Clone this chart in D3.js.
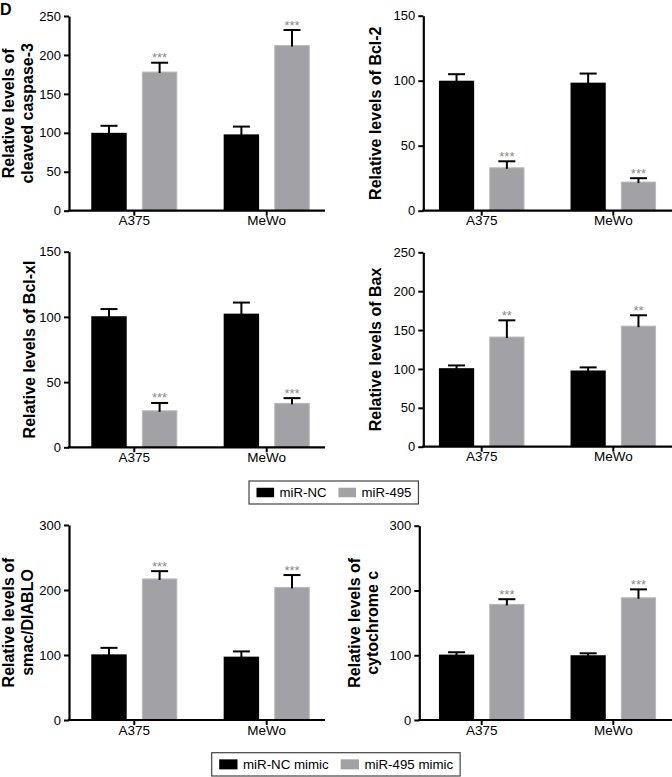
<!DOCTYPE html>
<html>
<head>
<meta charset="utf-8">
<script src="https://cdn.jsdelivr.net/npm/d3@7/dist/d3.min.js"></script>
<style>
  html, body { margin: 0; padding: 0; background: #fff; }
  svg { display: block; font-family: "Liberation Sans", Arial, Helvetica, sans-serif; }
</style>
</head>
<body>
<svg id="chart" width="672" height="777"></svg>
<script>
// ---------------- DATA ----------------
const categories = ["A375", "MeWo"];

const caspase3NC = [100, 98],   caspase3NCErr = [9, 10];
const caspase3Mir = [178, 212], caspase3MirErr = [12, 20];

const bcl2NC = [100, 98.5],     bcl2NCErr = [5, 7];
const bcl2Mir = [33, 22],       bcl2MirErr = [5, 3];

const bclxlNC = [100.5, 102.5], bclxlNCErr = [5.5, 8.5];
const bclxlMir = [28, 33.7],    bclxlMirErr = [6, 4];

const baxNC = [101, 98],        baxNCErr = [3.5, 4];
const baxMir = [141, 155],      baxMirErr = [21.5, 14];

const smacNC = [101, 97.5],     smacNCErr = [10, 8];
const smacMir = [217, 204],     smacMirErr = [12, 19];

const cytcNC = [101, 100],      cytcNCErr = [3.6, 3];
const cytcMir = [178.5, 188.7], cytcMirErr = [8, 13];

const sigCaspase3 = ["***", "***"];
const sigBcl2 = ["***", "***"];
const sigBclxl = ["***", "***"];
const sigBax = ["**", "**"];
const sigSmac = ["***", "***"];
const sigCytc = ["***", "***"];

const ticks250 = [0, 50, 100, 150, 200, 250];
const ticks150 = [0, 50, 100, 150];
const ticks300 = [0, 100, 200, 300];

const legend1Labels = ["miR-NC", "miR-495"];
const legend2Labels = ["miR-NC mimic", "miR-495 mimic"];

// ---------------- LAYOUT ----------------
const BLACK = "#000000";
const GREY = "#a2a2a6";
const GREY_EDGE = "#b8b8b8";
const STAR = "#8a8a8a";

const panels = [
  { label: ["Relative levels of", "cleaved caspase-3"], labelX: [14, 33],
    nc: caspase3NC, ncErr: caspase3NCErr, mir: caspase3Mir, mirErr: caspase3MirErr, sig: sigCaspase3,
    ticks: ticks250, axisX: 69, xEnd: 325, yTop: 16, yZero: 210.7, c1: 134.3, c2: 266.7 },
  { label: ["Relative levels of Bcl-2"], labelX: [381],
    nc: bcl2NC, ncErr: bcl2NCErr, mir: bcl2Mir, mirErr: bcl2MirErr, sig: sigBcl2,
    ticks: ticks150, axisX: 423.3, xEnd: 672, yTop: 15.7, yZero: 210.7, c1: 481.7, c2: 613.3 },
  { label: ["Relative levels of Bcl-xl"], labelX: [35],
    nc: bclxlNC, ncErr: bclxlNCErr, mir: bclxlMir, mirErr: bclxlMirErr, sig: sigBclxl,
    ticks: ticks150, axisX: 69, xEnd: 325, yTop: 251.7, yZero: 447.3, c1: 134.3, c2: 266.7 },
  { label: ["Relative levels of Bax"], labelX: [381],
    nc: baxNC, ncErr: baxNCErr, mir: baxMir, mirErr: baxMirErr, sig: sigBax,
    ticks: ticks250, axisX: 423.3, xEnd: 672, yTop: 252.3, yZero: 446.7, c1: 481.7, c2: 613.3 },
  { label: ["Relative levels of", "smac/DIABLO"], labelX: [14, 33],
    nc: smacNC, ncErr: smacNCErr, mir: smacMir, mirErr: smacMirErr, sig: sigSmac,
    ticks: ticks300, axisX: 69, xEnd: 325, yTop: 525, yZero: 720, c1: 134.3, c2: 266.7 },
  { label: ["Relative levels of", "cytochrome c"], labelX: [360, 378],
    nc: cytcNC, ncErr: cytcNCErr, mir: cytcMir, mirErr: cytcMirErr, sig: sigCytc,
    ticks: ticks300, axisX: 419.3, xEnd: 672, yTop: 525.7, yZero: 720, c1: 481.7, c2: 613.3 }
];

const svg = d3.select("#chart");

// Panel letter
svg.append("text").attr("x", 0).attr("y", 15)
  .attr("font-size", 16).attr("font-weight", "bold").text("D");

panels.forEach(p => {
  const g = svg.append("g");
  const step = p.c2 - p.c1;
  const y = d3.scaleLinear().domain([0, d3.max(p.ticks)]).range([p.yZero, p.yTop]);
  const x0 = d3.scaleBand().domain(categories)
    .range([p.c1 - step / 2, p.c2 + step / 2])
    .paddingInner(0.35).paddingOuter(0.175);
  const x1 = d3.scaleBand().domain(["nc", "mir"])
    .range([0, x0.bandwidth()]).paddingInner(0.3).paddingOuter(0);

  const rows = categories.map((c, i) => ({
    cat: c,
    series: [
      { key: "nc", v: p.nc[i], e: p.ncErr[i], sig: null },
      { key: "mir", v: p.mir[i], e: p.mirErr[i], sig: p.sig[i] }
    ]
  }));

  // bars
  const grp = g.selectAll("g.grp").data(rows).join("g")
    .attr("transform", d => `translate(${x0(d.cat)},0)`);

  grp.selectAll("rect").data(d => d.series).join("rect")
    .attr("x", d => x1(d.key) + (d.key === "mir" ? 0.5 : 0))
    .attr("width", d => x1.bandwidth() - (d.key === "mir" ? 1 : 0))
    .attr("y", d => y(d.v))
    .attr("height", d => y(0) - y(d.v))
    .attr("fill", d => d.key === "nc" ? BLACK : GREY)
    .attr("stroke", d => d.key === "nc" ? "none" : GREY_EDGE)
    .attr("stroke-width", 1);

  // error bars (upper only)
  const capW = 17;
  grp.selectAll("line.err").data(d => d.series).join("line")
    .attr("class", "err")
    .attr("x1", d => x1(d.key) + x1.bandwidth() / 2)
    .attr("x2", d => x1(d.key) + x1.bandwidth() / 2)
    .attr("y1", d => y(d.v) + 1)
    .attr("y2", d => y(d.v + d.e))
    .attr("stroke", BLACK).attr("stroke-width", 2);
  grp.selectAll("line.cap").data(d => d.series).join("line")
    .attr("class", "cap")
    .attr("x1", d => x1(d.key) + x1.bandwidth() / 2 - capW / 2)
    .attr("x2", d => x1(d.key) + x1.bandwidth() / 2 + capW / 2)
    .attr("y1", d => y(d.v + d.e))
    .attr("y2", d => y(d.v + d.e))
    .attr("stroke", BLACK).attr("stroke-width", 2);

  // significance stars
  grp.selectAll("text.sig").data(d => d.series.filter(s => s.sig)).join("text")
    .attr("class", "sig")
    .attr("x", d => x1(d.key) + x1.bandwidth() / 2)
    .attr("y", d => y(d.v + d.e) - 0.5)
    .attr("text-anchor", "middle")
    .attr("font-size", 13)
    .attr("fill", STAR)
    .text(d => d.sig);

  // y axis
  const yAxis = g.append("g").attr("transform", `translate(${p.axisX},0)`)
    .call(d3.axisLeft(y).tickValues(p.ticks).tickSize(5).tickPadding(3).tickSizeOuter(0));
  yAxis.select(".domain").attr("stroke-width", 2.2);
  yAxis.selectAll(".tick line").attr("stroke-width", 2);
  yAxis.selectAll(".tick text").attr("font-size", 13).attr("fill", "#000")
    .style("font-family", "'Liberation Sans', Arial, sans-serif");

  // x axis
  const xAxis = g.append("g").attr("transform", `translate(0,${p.yZero})`)
    .call(d3.axisBottom(x0).tickSize(5).tickPadding(4).tickSizeOuter(0));
  xAxis.select(".domain").remove();
  xAxis.selectAll(".tick line").attr("stroke-width", 2);
  xAxis.selectAll(".tick text").attr("font-size", 13.5).attr("fill", "#000")
    .attr("dy", null).attr("y", 14.5)
    .style("font-family", "'Liberation Sans', Arial, sans-serif");
  g.append("line")
    .attr("x1", p.axisX - 1.1).attr("x2", p.xEnd)
    .attr("y1", p.yZero).attr("y2", p.yZero)
    .attr("stroke", BLACK).attr("stroke-width", 2.2);

  // y label
  const cy = (p.yTop + p.yZero) / 2;
  p.label.forEach((t, i) => {
    svg.append("text")
      .attr("transform", `translate(${p.labelX[i]},${cy}) rotate(-90)`)
      .attr("text-anchor", "middle")
      .attr("font-size", 16).attr("font-weight", "bold")
      .text(t);
  });
});

// legends
function drawLegend(labels, boxX, boxY, boxH, swW, swH, fontSize) {
  const lg = svg.append("g");
  const box = lg.append("rect").attr("x", boxX).attr("y", boxY).attr("height", boxH)
    .attr("fill", "#fff").attr("stroke", "#444").attr("stroke-width", 1.2);
  let cx = boxX + 7.5;
  const colors = [BLACK, GREY];
  labels.forEach((t, i) => {
    lg.append("rect").attr("x", cx).attr("y", boxY + (boxH - swH) / 2)
      .attr("width", swW).attr("height", swH).attr("fill", colors[i]);
    const tx = lg.append("text").attr("x", cx + swW + 5.5).attr("y", boxY + boxH / 2 + fontSize * 0.36)
      .attr("font-size", fontSize).text(t);
    const w = tx.node().getComputedTextLength();
    cx = cx + swW + 5.5 + w + (i === 0 ? 12 : 7);
  });
  box.attr("width", cx - boxX);
}
drawLegend(legend1Labels, 249, 481, 23, 17.6, 9.5, 13.2);
drawLegend(legend2Labels, 211.7, 752.7, 23.3, 18.3, 10, 13.3);
</script>
</body>
</html>
